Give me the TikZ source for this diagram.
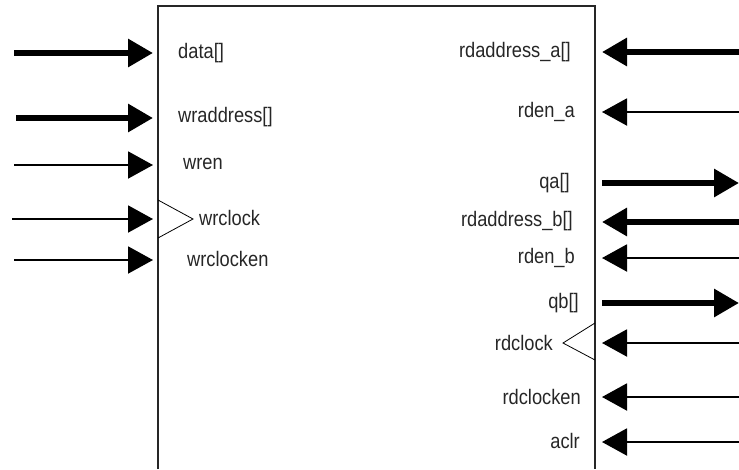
\documentclass[tikz,border=0pt]{standalone}
\usepackage{fontspec}
\setmainfont{Liberation Sans}[FakeStretch=0.87]
\usetikzlibrary{arrows.meta}

\begin{document}
\begin{tikzpicture}[x=1pt,y=-1pt,
    port/.style={font=\fontsize{21}{21}\selectfont, text=black!85, inner sep=0pt},
    bus/.style={line width=6pt, -{Triangle[length=25pt,width=27pt]}},
    wire/.style={line width=2pt, -{Triangle[length=25pt,width=27pt]}},
    clk/.style={line width=0.8pt}]
  \useasboundingbox (0,0) rectangle (739,469);

  % block outline, open at the bottom
  \coordinate (blockbl) at (158,469);
  \coordinate (blocktl) at (158,6);
  \coordinate (blocktr) at (595,6);
  \coordinate (blockbr) at (595,469);
  \draw[line width=2pt, black!85] (blockbl) -- (blocktl) -- (blocktr) -- (blockbr);

  % write side
  \node[port, anchor=west] (data) at (178,53) {data[]};
  \node[port, anchor=west] (wraddress) at (178,117) {wraddress[]};
  \node[port, anchor=west] (wren) at (183,164) {wren};
  \node[port, anchor=west] (wrclock) at (199,218) {wrclock};
  \node[port, anchor=west] (wrclocken) at (187,259) {wrclocken};

  \coordinate (dataIn) at (14,53);
  \coordinate (dataPin) at (153,53);
  \coordinate (wraddressIn) at (16,118);
  \coordinate (wraddressPin) at (153,118);
  \coordinate (wrenIn) at (14,165);
  \coordinate (wrenPin) at (153,165);
  \coordinate (wrclockIn) at (12,219);
  \coordinate (wrclockPin) at (153,219);
  \coordinate (wrclockenIn) at (14,260);
  \coordinate (wrclockenPin) at (153,260);

  \draw[bus] (dataIn) -- (dataPin);
  \draw[bus] (wraddressIn) -- (wraddressPin);
  \draw[wire] (wrenIn) -- (wrenPin);
  \draw[wire] (wrclockIn) -- (wrclockPin);
  \draw[wire] (wrclockenIn) -- (wrclockenPin);
  \draw[clk] (158,200) -- (193,219) -- (158,238);

  % read side
  \node[port, anchor=east] (rdaddressa) at (571,52) {rdaddress\_a[]};
  \node[port, anchor=east] (rdena) at (575,112) {rden\_a};
  \node[port, anchor=east] (qa) at (570,183) {qa[]};
  \node[port, anchor=east] (rdaddressb) at (573,221) {rdaddress\_b[]};
  \node[port, anchor=east] (rdenb) at (575,258) {rden\_b};
  \node[port, anchor=east] (qb) at (579,303) {qb[]};
  \node[port, anchor=east] (rdclock) at (553,343) {rdclock};
  \node[port, anchor=east] (rdclocken) at (581,397) {rdclocken};
  \node[port, anchor=east] (aclr) at (580,441) {aclr};

  \coordinate (rdaddressaIn) at (739,52);
  \coordinate (rdaddressaPin) at (602,52);
  \coordinate (rdenaIn) at (739,112);
  \coordinate (rdenaPin) at (602,112);
  \coordinate (qaPin) at (602,183);
  \coordinate (qaOut) at (739,183);
  \coordinate (rdaddressbIn) at (739,222);
  \coordinate (rdaddressbPin) at (602,222);
  \coordinate (rdenbIn) at (739,258);
  \coordinate (rdenbPin) at (602,258);
  \coordinate (qbPin) at (602,303);
  \coordinate (qbOut) at (739,303);
  \coordinate (rdclockIn) at (739,343);
  \coordinate (rdclockPin) at (602,343);
  \coordinate (rdclockenIn) at (739,397);
  \coordinate (rdclockenPin) at (602,397);
  \coordinate (aclrIn) at (739,442);
  \coordinate (aclrPin) at (602,442);

  \draw[bus] (rdaddressaIn) -- (rdaddressaPin);
  \draw[wire] (rdenaIn) -- (rdenaPin);
  \draw[bus] (qaPin) -- (qaOut);
  \draw[bus] (rdaddressbIn) -- (rdaddressbPin);
  \draw[wire] (rdenbIn) -- (rdenbPin);
  \draw[bus] (qbPin) -- (qbOut);
  \draw[wire] (rdclockIn) -- (rdclockPin);
  \draw[wire] (rdclockenIn) -- (rdclockenPin);
  \draw[wire] (aclrIn) -- (aclrPin);
  \draw[clk] (595,323) -- (563,343) -- (595,360);
\end{tikzpicture}
\end{document}
